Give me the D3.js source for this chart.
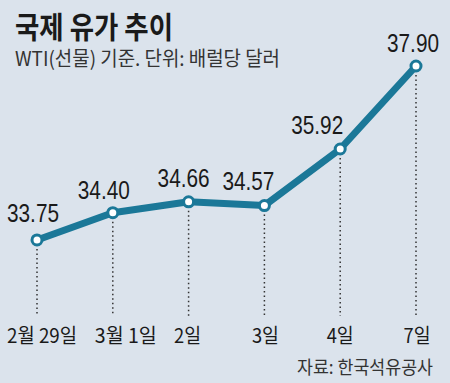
<!DOCTYPE html>
<html>
<head>
<meta charset="utf-8">
<script src="https://cdn.jsdelivr.net/npm/d3@7"></script>
<style>
  body { margin: 0; background: #dbe3ec; }
  svg { display: block; }
</style>
</head>
<body>
<div id="chart"></div>
<script>
var dates = ['2월 29일', '3월 1일', '2일', '3일', '4일', '7일'];
var prices = [33.75, 34.40, 34.66, 34.57, 35.92, 37.90];

// label nudges so the numbers don't sit on the line
var valueDx = [-4, -9, -5, -16, -23, -3];
var valueDy = [-18, -14, -15, -16, -15, -14];
var dateDx = [5, 13, -1, 1, 0, 1];

var W = 450, H = 383;
var lineColor = '#1b7898';

var svg = d3.select('#chart').append('svg')
            .attr('width', W).attr('height', H);

svg.append('rect').attr('width', W).attr('height', H).attr('fill', '#dbe3ec');

var x = d3.scalePoint().domain(dates).range([37, 416]);
var y = d3.scaleLinear().domain([33, 38]).range([271.4, 61.8]);

// title
svg.append('text')
   .attr('x', 15).attr('y', 38)
   .attr('font-family', 'Noto Sans CJK KR')
   .attr('font-weight', 700)
   .attr('font-size', 30)
   .attr('fill', '#1a1a1a')
   .attr('textLength', 158).attr('lengthAdjust', 'spacingAndGlyphs')
   .text('국제 유가 추이');

svg.append('text')
   .attr('x', 15).attr('y', 66)
   .attr('font-family', 'Noto Sans CJK KR')
   .attr('font-size', 20)
   .attr('fill', '#333')
   .attr('textLength', 265).attr('lengthAdjust', 'spacingAndGlyphs')
   .text('WTI(선물) 기준. 단위: 배럴당 달러');

// dotted drop lines
svg.selectAll('line.drop')
   .data(prices)
   .enter().append('line')
     .attr('class', 'drop')
     .attr('x1', (d, i) => x(dates[i]))
     .attr('x2', (d, i) => x(dates[i]))
     .attr('y1', d => y(d))
     .attr('y2', 316)
     .attr('stroke', '#333')
     .attr('stroke-width', 1.5)
     .attr('stroke-dasharray', '1.5,3');

var line = d3.line()
             .x((d, i) => x(dates[i]))
             .y(d => y(d));

svg.append('path')
   .datum(prices)
   .attr('d', line)
   .attr('fill', 'none')
   .attr('stroke', lineColor)
   .attr('stroke-width', 7)
   .attr('stroke-linejoin', 'round');

svg.selectAll('circle')
   .data(prices)
   .enter().append('circle')
     .attr('cx', (d, i) => x(dates[i]))
     .attr('cy', d => y(d))
     .attr('r', 5)
     .attr('fill', '#fff')
     .attr('stroke', lineColor)
     .attr('stroke-width', 3);

// value labels
svg.selectAll('text.val')
   .data(prices)
   .enter().append('text')
     .attr('class', 'val')
     .attr('x', (d, i) => x(dates[i]) + valueDx[i])
     .attr('y', (d, i) => y(d) + valueDy[i])
     .attr('text-anchor', 'middle')
     .attr('font-family', 'Liberation Sans Narrow, Liberation Sans, Arial')
     .attr('font-size', 25)
     .attr('fill', '#1a1a1a')
     .attr('textLength', 52).attr('lengthAdjust', 'spacingAndGlyphs')
     .text(d => d.toFixed(2));

// date labels
svg.selectAll('text.date')
   .data(dates)
   .enter().append('text')
     .attr('class', 'date')
     .attr('x', (d, i) => x(d) + dateDx[i])
     .attr('y', 343)
     .attr('text-anchor', 'middle')
     .attr('font-family', 'Noto Sans CJK KR')
     .attr('font-size', 20)
     .attr('fill', '#1a1a1a')
     .attr('textLength', d => d.length > 3 ? (d.length > 5 ? 70 : 62) : 27)
     .attr('lengthAdjust', 'spacingAndGlyphs')
     .text(d => d);

svg.append('text')
   .attr('x', 433).attr('y', 374)
   .attr('text-anchor', 'end')
   .attr('font-family', 'Noto Sans CJK KR')
   .attr('font-size', 18)
   .attr('fill', '#333')
   .attr('textLength', 136).attr('lengthAdjust', 'spacingAndGlyphs')
   .text('자료: 한국석유공사');
</script>
</body>
</html>
